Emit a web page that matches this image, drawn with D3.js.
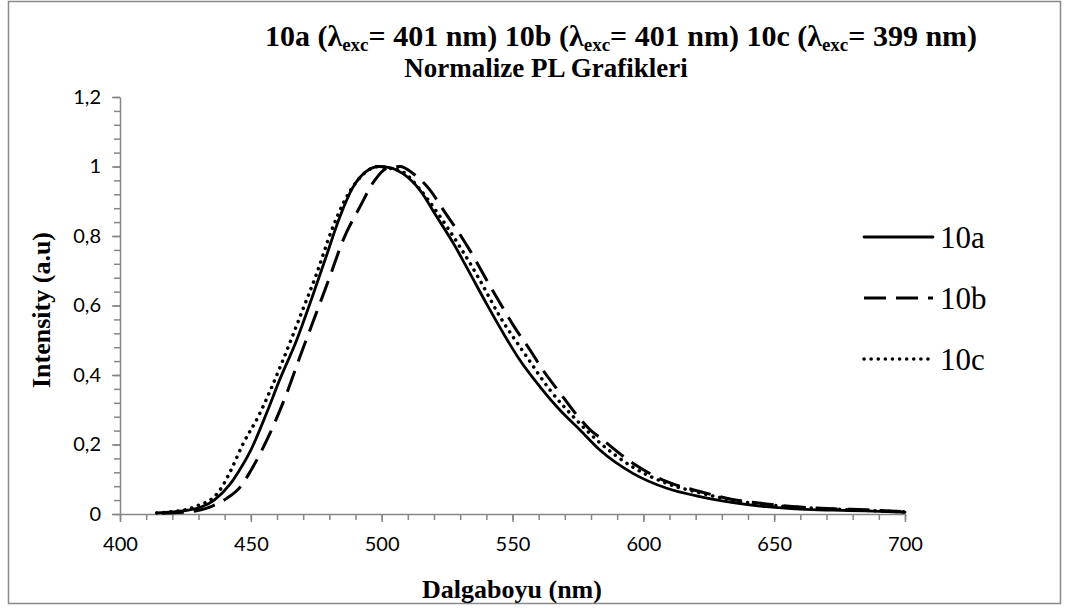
<!DOCTYPE html>
<html>
<head>
<meta charset="utf-8">
<script src="https://cdn.jsdelivr.net/npm/d3@7"></script>
<style>
  body { margin: 0; background: #fff; }
  svg { display: block; }
</style>
</head>
<body>
<div id="chart"></div>
<script>
// 10a (solid)
var wl10a  = [414, 420, 426, 431, 436, 442, 446, 450, 456, 461, 467.5, 472.6, 478.3, 484, 489, 494, 499, 503, 508, 514.6, 521, 527.4, 533.7, 540, 546.5, 552.8, 560.5, 568, 575.8, 583.4, 596, 609, 621.6, 634.3, 647, 660, 672.6, 685, 700];
var int10a = [0.003, 0.006, 0.011, 0.02, 0.04, 0.085, 0.13, 0.184, 0.29, 0.386, 0.50, 0.606, 0.73, 0.855, 0.94, 0.985, 1.0, 0.997, 0.98, 0.932, 0.856, 0.779, 0.693, 0.606, 0.52, 0.443, 0.366, 0.30, 0.242, 0.184, 0.117, 0.074, 0.05, 0.033, 0.021, 0.014, 0.011, 0.009, 0.005];

// 10b (dashed)
var wl10b  = [416, 422, 427, 431, 435, 440.8, 446, 450, 457.3, 463.7, 468.8, 474.5, 480.2, 485.3, 491.7, 497.4, 502, 507, 512, 518.5, 524, 529, 534, 540, 545, 551, 556.7, 562, 568, 574, 580, 583.4, 596, 609, 622, 634, 647, 660, 673, 685, 700];
var int10b = [0.002, 0.004, 0.007, 0.012, 0.022, 0.045, 0.078, 0.125, 0.232, 0.347, 0.453, 0.568, 0.683, 0.789, 0.884, 0.961, 0.995, 1.0, 0.98, 0.932, 0.87, 0.815, 0.755, 0.675, 0.61, 0.535, 0.472, 0.41, 0.35, 0.29, 0.24, 0.22, 0.146, 0.093, 0.064, 0.042, 0.029, 0.02, 0.015, 0.012, 0.007];

// 10c (dotted)
var wl10c  = [414, 420, 426, 430, 434.4, 438.2, 442, 447.1, 452.8, 461.8, 468.8, 475.2, 480.9, 485.3, 490.4, 495, 499, 503, 508, 514, 521, 529.9, 537, 545.2, 555.4, 564.3, 574.5, 583.4, 596, 609, 622, 634, 647, 660, 673, 686, 700];
var int10c = [0.003, 0.007, 0.014, 0.025, 0.04, 0.069, 0.12, 0.203, 0.28, 0.434, 0.568, 0.693, 0.817, 0.894, 0.956, 0.99, 1.0, 0.995, 0.985, 0.94, 0.87, 0.769, 0.68, 0.568, 0.453, 0.357, 0.27, 0.205, 0.135, 0.088, 0.06, 0.04, 0.027, 0.019, 0.014, 0.01, 0.006];

var seriesNames = ["10a", "10b", "10c"];
var xTicks = [400, 450, 500, 550, 600, 650, 700];
var yTicks = [0, 0.2, 0.4, 0.6, 0.8, 1, 1.2];
var yTickLabels = ["0", "0,2", "0,4", "0,6", "0,8", "1", "1,2"];

var w = 1068, h = 608;
var serif = "'Liberation Serif', 'Times New Roman', serif";
var axisGrey = "#868686";

var svg = d3.select("#chart").append("svg")
    .attr("width", w)
    .attr("height", h);

svg.append("rect")
    .attr("width", w).attr("height", h)
    .attr("fill", "#fff");

// chart border
svg.append("rect")
    .attr("x", 8.5).attr("y", 1.5)
    .attr("width", 1052).attr("height", 602)
    .attr("fill", "none")
    .attr("stroke", "#8a8a8a")
    .attr("stroke-width", 1.5);

var x = d3.scaleLinear().domain([400, 700]).range([120, 905]);
var y = d3.scaleLinear().domain([0, 1.2]).range([514, 97]);

// minor ticks
svg.append("g")
    .attr("transform", "translate(0,514)")
    .call(d3.axisBottom(x).tickValues(d3.range(400, 701, 10)).tickSize(6).tickFormat(""))
    .call(g => g.select(".domain").remove());
svg.append("g")
    .attr("transform", "translate(120,0)")
    .call(d3.axisLeft(y).tickValues(d3.range(0, 1.2001, 0.04)).tickSize(6).tickFormat(""))
    .call(g => g.select(".domain").remove());

// major axes
svg.append("g")
    .attr("transform", "translate(0,514)")
    .call(d3.axisBottom(x).tickValues(xTicks).tickSize(8).tickSizeOuter(0).tickPadding(15));
svg.append("g")
    .attr("transform", "translate(120,0)")
    .call(d3.axisLeft(y).tickValues(yTicks).tickSize(8).tickSizeOuter(0).tickPadding(11)
        .tickFormat((d, i) => yTickLabels[i]));

svg.selectAll(".tick line, .domain")
    .attr("stroke", axisGrey)
    .attr("stroke-width", 1.5);
svg.selectAll(".tick text")
    .attr("fill", "#000")
    .style("font-family", "Lato, 'Open Sans', sans-serif")
    .style("font-size", "20px");

// curves
var line = d3.line()
    .x(d => x(d[0]))
    .y(d => y(d[1]))
    .curve(d3.curveMonotoneX);

var series = [
    { name: seriesNames[0], data: d3.zip(wl10a, int10a), dash: null, cap: "round", sw: 2.8 },
    { name: seriesNames[1], data: d3.zip(wl10b, int10b), dash: "22,10", cap: "butt", sw: 3 },
    { name: seriesNames[2], data: d3.zip(wl10c, int10c), dash: "0.1,7", cap: "round", sw: 3.5 }
];

svg.selectAll("path.series")
    .data(series)
    .enter()
    .append("path")
    .attr("class", "series")
    .attr("fill", "none")
    .attr("stroke", "#000")
    .attr("stroke-width", d => d.sw)
    .attr("stroke-linecap", d => d.cap)
    .attr("stroke-dasharray", d => d.dash)
    .attr("d", d => line(d.data));

// legend
var legendY = [237, 298, 359];
var lg = svg.selectAll("g.legend")
    .data(series)
    .enter()
    .append("g")
    .attr("class", "legend")
    .attr("transform", (d, i) => "translate(0," + legendY[i] + ")");
lg.append("line")
    .attr("x1", 864).attr("x2", 933)
    .attr("stroke", "#000")
    .attr("stroke-width", d => d.sw)
    .attr("stroke-linecap", d => d.cap)
    .attr("stroke-dasharray", d => d.dash);
lg.append("text")
    .attr("x", 940)
    .attr("y", 11)
    .style("font-family", serif)
    .style("font-size", "31px")
    .text(d => d.name);

// title
var title = svg.append("text")
    .attr("x", 621)
    .attr("y", 46)
    .attr("text-anchor", "middle")
    .style("font-family", serif)
    .style("font-weight", "bold")
    .style("font-size", "30px");
var parts = [["10a (λ", "= 401 nm) "], ["10b (λ", "= 401 nm) "], ["10c (λ", "= 399 nm)"]];
parts.forEach(p => {
    title.append("tspan").text(p[0]);
    title.append("tspan").attr("dy", 5).style("font-size", "19px").text("exc");
    title.append("tspan").attr("dy", -5).text(p[1]);
});
svg.append("text")
    .attr("x", 546)
    .attr("y", 77)
    .attr("text-anchor", "middle")
    .style("font-family", serif)
    .style("font-weight", "bold")
    .style("font-size", "27px")
    .text("Normalize PL Grafikleri");

// axis titles
svg.append("text")
    .attr("x", 512)
    .attr("y", 598)
    .attr("text-anchor", "middle")
    .style("font-family", serif)
    .style("font-weight", "bold")
    .style("font-size", "26px")
    .text("Dalgaboyu (nm)");
svg.append("text")
    .attr("transform", "translate(50,310) rotate(-90)")
    .attr("text-anchor", "middle")
    .style("font-family", serif)
    .style("font-weight", "bold")
    .style("font-size", "26px")
    .text("Intensity (a.u)");
</script>
</body>
</html>
